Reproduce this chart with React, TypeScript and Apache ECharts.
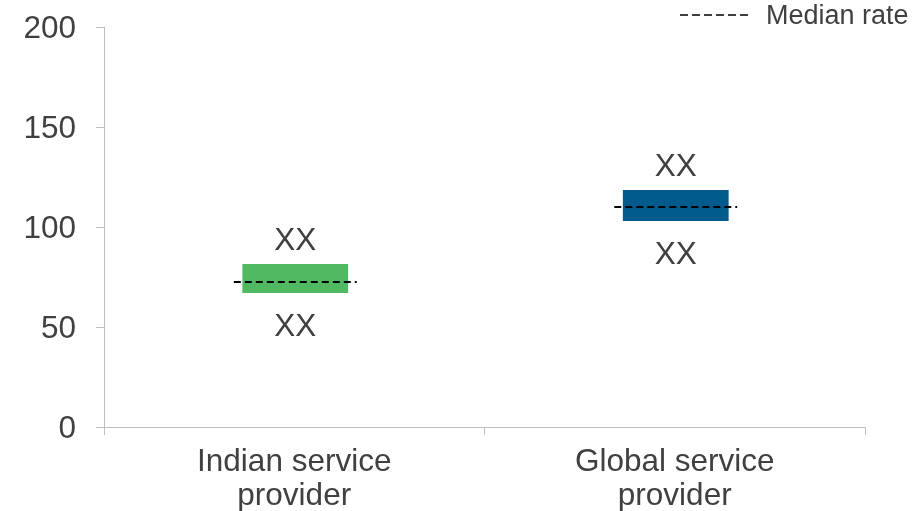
import React, { useEffect, useRef } from "react";
import * as echarts from "echarts";

const categories = ["Indian service\nprovider", "Global service\nprovider"];
const lowValues = [67, 103];
const highValues = [81.5, 118.5];
const medianValues = [72.5, 110];
const topLabels = ["XX", "XX"];
const bottomLabels = ["XX", "XX"];
const barColors = ["#52b963", "#005a8c"];
const yTicks = { min: 0, max: 200, interval: 50 };
const legendLabel = "Median rate";

const FONT = "'Liberation Sans', Arial, Helvetica, sans-serif";
const TEXT = "#404040";
const FS = 31.5;

export default function App() {
  const ref = useRef<HTMLDivElement>(null);
  useEffect(() => {
    if (!ref.current) return;
    const chart = echarts.init(ref.current, null, { renderer: "svg" });
    const data = categories.map((_, i) => [i, lowValues[i], highValues[i], medianValues[i]]);
    chart.setOption({
      animation: false,
      grid: {
        left: 104,
        right: 55,
        top: 27,
        bottom: 84,
        containLabel: false,
        outerBoundsMode: "none",
      },
      xAxis: {
        type: "category",
        data: categories,
        axisLine: { lineStyle: { color: "#bfbfbf", width: 1 } },
        axisTick: { show: true, length: 8, lineStyle: { color: "#bfbfbf" } },
        axisLabel: {
          color: TEXT,
          fontSize: FS,
          fontFamily: FONT,
          lineHeight: 34,
          margin: 16,
          interval: 0,
        },
      },
      yAxis: {
        type: "value",
        min: yTicks.min,
        max: yTicks.max,
        interval: yTicks.interval,
        splitLine: { show: false },
        axisLine: { show: true, lineStyle: { color: "#bfbfbf", width: 1 } },
        axisTick: { show: true, length: 8, lineStyle: { color: "#bfbfbf" } },
        axisLabel: { color: TEXT, fontSize: FS, fontFamily: FONT, margin: 28 },
      },
      series: [
        {
          type: "custom",
          data,
          renderItem: (params: any, api: any) => {
            const idx = api.value(0);
            const low = api.coord([idx, api.value(1)]);
            const high = api.coord([idx, api.value(2)]);
            const med = api.coord([idx, api.value(3)]);
            const band = api.size([1, 0])[0];
            const bw = band * 0.278;
            const lw = band * 0.323;
            const cx = low[0] + 1;
            return {
              type: "group",
              children: [
                {
                  type: "rect",
                  shape: { x: cx - bw / 2, y: high[1], width: bw, height: low[1] - high[1] },
                  style: { fill: barColors[params.dataIndex] },
                },
                {
                  type: "line",
                  shape: { x1: cx - lw / 2, y1: med[1], x2: cx + lw / 2, y2: med[1] },
                  style: { stroke: "#000", lineWidth: 2, lineDash: [7, 4] },
                },
                {
                  type: "text",
                  style: {
                    text: topLabels[params.dataIndex],
                    x: cx,
                    y: high[1] - 25,
                    align: "center",
                    verticalAlign: "middle",
                    fill: TEXT,
                    fontSize: FS,
                    fontFamily: FONT,
                  },
                },
                {
                  type: "text",
                  style: {
                    text: bottomLabels[params.dataIndex],
                    x: cx,
                    y: low[1] + 32,
                    align: "center",
                    verticalAlign: "middle",
                    fill: TEXT,
                    fontSize: FS,
                    fontFamily: FONT,
                  },
                },
              ],
            };
          },
        },
      ],
      graphic: [
        {
          type: "line",
          shape: { x1: 680, y1: 15, x2: 752, y2: 15 },
          style: { stroke: "#000", lineWidth: 1.5, lineDash: [8, 4] },
        },
        {
          type: "text",
          x: 766,
          y: 15,
          style: {
            text: legendLabel,
            fill: TEXT,
            fontSize: 27,
            fontFamily: FONT,
            verticalAlign: "middle",
          },
        },
      ],
    });
    return () => chart.dispose();
  }, []);
  return (
    <div
      ref={ref}
      style={{ position: "fixed", left: 0, top: 0, width: 920, height: 511 }}
    />
  );
}
